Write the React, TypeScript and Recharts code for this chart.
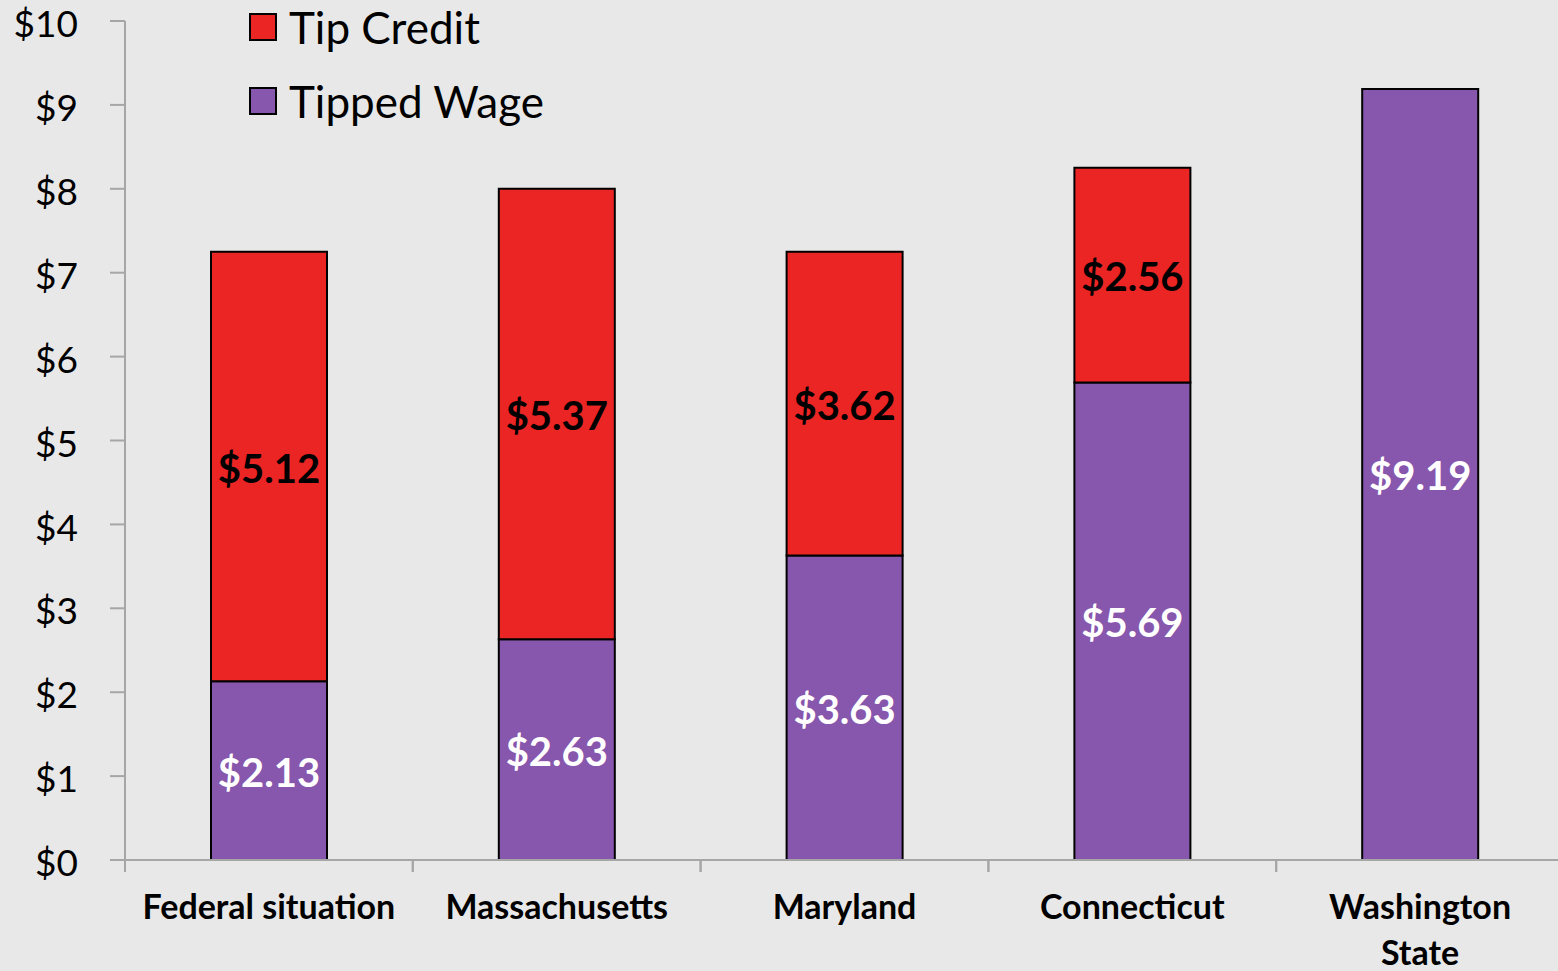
import React from "react";
import { BarChart, Bar, XAxis, YAxis, LabelList } from "recharts";

const categories = ["Federal situation", "Massachusetts", "Maryland", "Connecticut", "Washington\nState"];
const tippedWage = [2.13, 2.63, 3.63, 5.69, 9.19];
const tipCredit = [5.12, 5.37, 3.62, 2.56, 0];
const yTicks = [0, 1, 2, 3, 4, 5, 6, 7, 8, 9, 10];
const legendItems = ["Tip Credit", "Tipped Wage"];

const data = categories.map((name, i) => ({ name, tippedWage: tippedWage[i], tipCredit: tipCredit[i] }));

const FONT = "Lato, 'Open Sans', sans-serif";
const RED = "#eb2424";
const PURPLE = "#8756ad";
const AXIS = "#a6a6a6";

const XTick = (props: any) => {
  const { x, y, payload, width, visibleTicksCount } = props;
  const half = width / (visibleTicksCount || 5) / 2;
  const lines = String(payload.value).split("\n");
  return (
    <g>
      <line x1={x - half} x2={x - half} y1={y - 12} y2={y} stroke={AXIS} strokeWidth={2} />
      <line x1={x + half} x2={x + half} y1={y - 12} y2={y} stroke={AXIS} strokeWidth={2} />
      {lines.map((l, i) => (
        <text key={i} x={x} y={y + 47 + i * 46} textAnchor="middle" fill="#000" fontFamily={FONT} fontWeight={700} fontSize={34}>
          {l}
        </text>
      ))}
    </g>
  );
};

const makeLabel = (color: string) => (props: any) => {
  const { x, y, width, height, value } = props;
  if (!value) return null;
  return (
    <text x={x + width / 2} y={y + height / 2} dy={16} textAnchor="middle" fill={color} fontFamily={FONT} fontWeight={700} fontSize={40}>
      {"$" + Number(value).toFixed(2)}
    </text>
  );
};

const legendColors = [RED, PURPLE];

export default function App() {
  return (
    <div style={{ position: "absolute", left: 0, top: 0, width: 1558, height: 971, overflow: "hidden", background: "#e8e8e8" }}>
      <BarChart width={1564} height={971} data={data} margin={{ top: 21, right: 0, bottom: 0, left: 0 }} barSize={116}>
        <XAxis
          dataKey="name"
          height={111}
          tick={<XTick />}
          tickLine={false}
          tickSize={12}
          tickMargin={0}
          stroke={AXIS}
          strokeWidth={2}
          interval={0}
        />
        <YAxis
          width={125}
          domain={[0, 10]}
          ticks={yTicks}
          tickFormatter={(v: number) => "$" + v}
          tickSize={15}
          tickMargin={32}
          stroke={AXIS}
          strokeWidth={2}
          tick={{ fill: "#000", fontFamily: FONT, fontSize: 37, dy: 3 }}
          interval={0}
        />
        <Bar dataKey="tippedWage" stackId="a" fill={PURPLE} stroke="#000" strokeWidth={2} isAnimationActive={false}>
          <LabelList dataKey="tippedWage" content={makeLabel("#ffffff")} />
        </Bar>
        <Bar dataKey="tipCredit" stackId="a" fill={RED} stroke="#000" strokeWidth={2} isAnimationActive={false}>
          <LabelList dataKey="tipCredit" content={makeLabel("#000000")} />
        </Bar>
      </BarChart>
      <div style={{ position: "absolute", left: 249, top: -10 }}>
        {legendItems.map((label, i) => (
          <div key={i} style={{ display: "flex", alignItems: "center", height: 74 }}>
            <div style={{ width: 24, height: 24, background: legendColors[i], border: "2px solid #000", marginRight: 12 }} />
            <span style={{ fontFamily: FONT, fontSize: 44, color: "#000", lineHeight: "1" }}>{label}</span>
          </div>
        ))}
      </div>
    </div>
  );
}
